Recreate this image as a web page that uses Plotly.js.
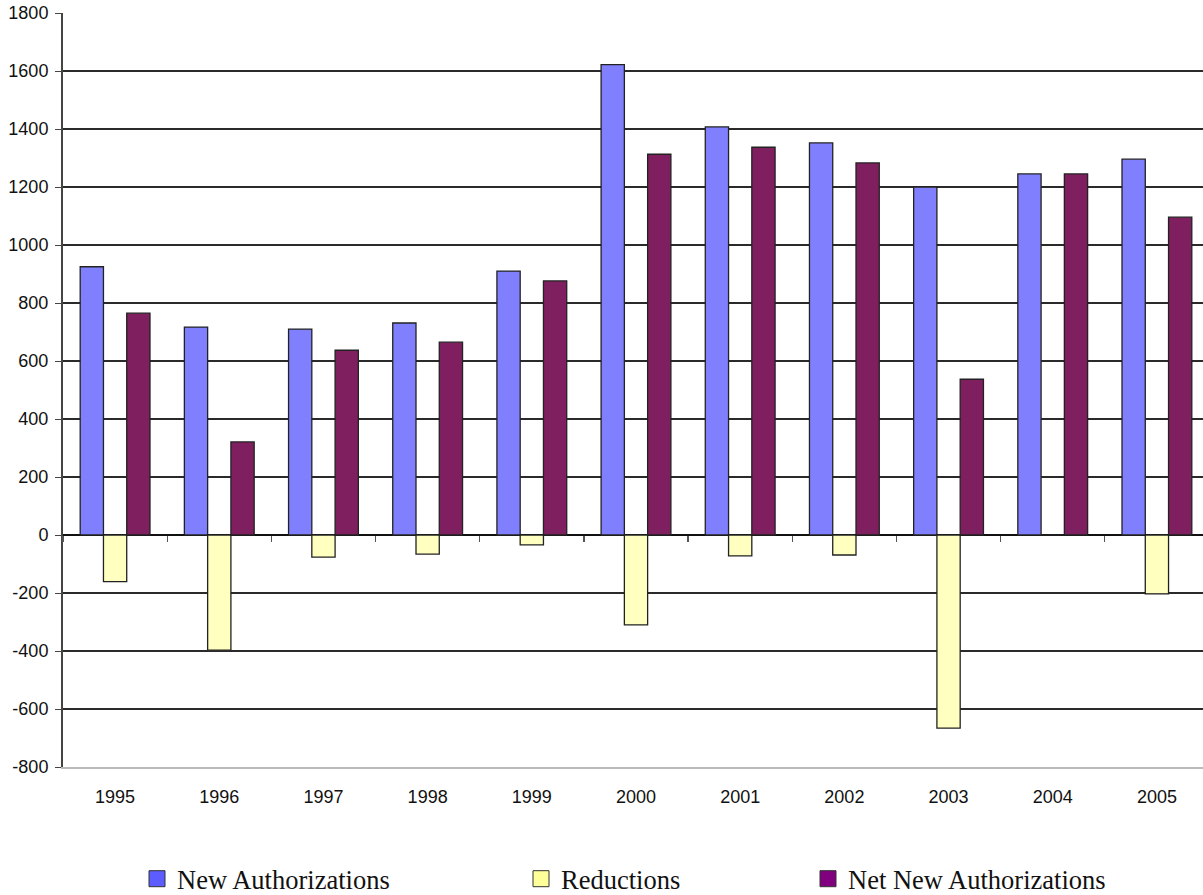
<!DOCTYPE html>
<html>
<head>
<meta charset="utf-8">
<script src="https://cdn.plot.ly/plotly-3.0.1.min.js"></script>
<style>html,body{margin:0;padding:0;background:#fff;overflow:hidden;width:1203px;height:895px}#chart{width:1210px;height:895px}</style>
</head>
<body>
<div id="chart"></div>
<script>
var years = ["1995","1996","1997","1998","1999","2000","2001","2002","2003","2004","2005"];
var newAuthorizations = [925, 717, 710, 731, 910, 1622, 1407, 1352, 1200, 1245, 1296];
var reductions = [-161, -397, -76, -66, -34, -310, -72, -69, -666, 0, -203];
var netNewAuthorizations = [765, 321, 637, 665, 876, 1313, 1337, 1283, 537, 1245, 1096];
var yTicks = [-800,-600,-400,-200,0,200,400,600,800,1000,1200,1400,1600,1800];
var yTickLabels = ["-800","-600","-400","-200","0","200","400","600","800","1000","1200","1400","1600","1800"];
var seriesNames = ["New Authorizations", "Reductions", "Net New Authorizations"];

var line = {color: '#222', width: 1.3};
var traces = [
  {type:'bar', name:seriesNames[0], x:years, y:newAuthorizations,
   marker:{color:'#8080FF', line:line}, showlegend:false},
  {type:'bar', name:seriesNames[1], x:years, y:reductions,
   marker:{color:'#FFFFC0', line:line}, showlegend:false},
  {type:'bar', name:seriesNames[2], x:years, y:netNewAuthorizations,
   marker:{color:'#7F1F5F', line:line}, showlegend:false},
  {type:'scatter', x:years, y:years.map(function(){return 0;}), xaxis:'x2', yaxis:'y',
   mode:'lines', line:{width:0}, showlegend:false, hoverinfo:'skip'},
  {type:'scatter', name:seriesNames[0], x:[null], y:[null], mode:'markers', legend:'legend',
   marker:{symbol:'square', size:22, color:'#5C5CFF', line:{color:'#333', width:1}}},
  {type:'scatter', name:seriesNames[1], x:[null], y:[null], mode:'markers', legend:'legend2',
   marker:{symbol:'square', size:22, color:'#FFFF99', line:{color:'#333', width:1}}},
  {type:'scatter', name:seriesNames[2], x:[null], y:[null], mode:'markers', legend:'legend3',
   marker:{symbol:'square', size:22, color:'#800080', line:{color:'#333', width:1}}}
];

var legFont = {family:'Liberation Serif, Times New Roman, serif', size:26.5, color:'#111'};
function leg(px){
  return {x:(px-63)/1146, xanchor:'left', y:-0.1485, yanchor:'middle', orientation:'h',
          font:legFont, bgcolor:'rgba(0,0,0,0)', itemsizing:'trace'};
}

var layout = {
  width:1210, height:895,
  margin:{l:63, r:1, t:13, b:128, autoexpand:false},
  paper_bgcolor:'#fff', plot_bgcolor:'#fff',
  barmode:'group', bargap:0.33, bargroupgap:0,
  font:{family:'Liberation Sans, Arial, sans-serif', size:18, color:'#111'},
  xaxis:{type:'category', range:[-0.5,10.5], showgrid:false, zeroline:false,
         showline:true, linecolor:'#bbb', linewidth:1.5, ticks:'', ticklabelstandoff:13,
         tickfont:{size:18, color:'#111'}},
  xaxis2:{type:'category', range:[-0.5,10.5], overlaying:'x', anchor:'free',
          position:800/2600, showgrid:false, zeroline:false, showline:false,
          ticks:'outside', tickson:'boundaries', ticklen:6, tickcolor:'#555',
          tickwidth:1.3, showticklabels:false},
  yaxis:{range:[-800,1800], tickmode:'array', tickvals:yTicks, ticktext:yTickLabels,
         showgrid:true, gridcolor:'#2a2a2a', gridwidth:1.2,
         zeroline:true, zerolinecolor:'#111', zerolinewidth:1.5,
         showline:true, linecolor:'#444', linewidth:2, ticks:'outside', ticklen:6,
         tickcolor:'#444', ticklabelstandoff:3, tickfont:{size:18, color:'#111'}},
  showlegend:true,
  legend:leg(137),
  legend2:leg(521),
  legend3:leg(808)
};

Plotly.newPlot('chart', traces, layout, {staticPlot:true, displayModeBar:false});
</script>
</body>
</html>
